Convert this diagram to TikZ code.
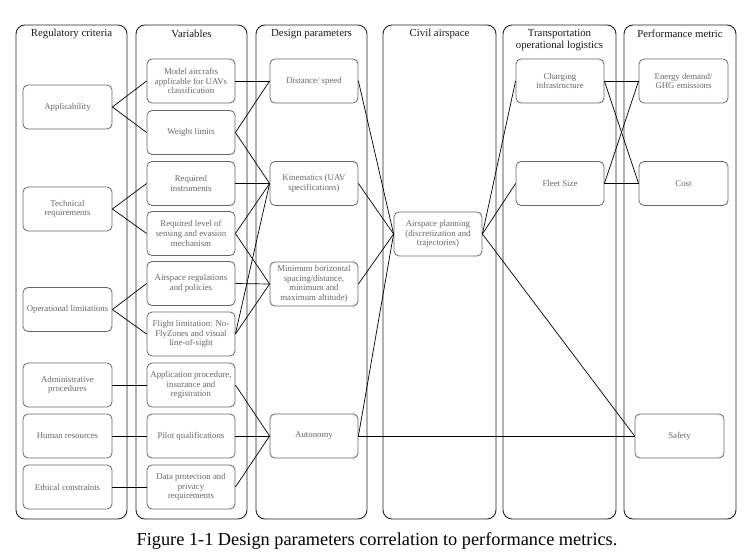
\documentclass[tikz,border=0pt]{standalone}
\usepackage{fontspec}
\setmainfont{Liberation Serif}
\begin{document}
\begin{tikzpicture}[x=1pt,y=-1pt,
  colbox/.style={draw=black!85, line width=0.9pt, rounded corners=9pt, minimum width=#1, minimum height=494pt, inner sep=0pt},
  coltitle/.style={align=center, font=\fontsize{10.8}{12}\selectfont, text=black!90, inner sep=0pt},
  ibox/.style={draw=black!60, line width=0.8pt, rounded corners=5pt, minimum width=88pt, minimum height=44pt, align=center, font=\fontsize{8.8}{9.7}\selectfont, text=black!60, inner sep=1pt},
  conn/.style={draw=black, line width=0.7pt}
]
\useasboundingbox (0,0) rectangle (756,559);

% columns
\node[colbox=111pt] (c1) at (71.5,272) {};
\node[colbox=111pt] (c2) at (191.5,272) {};
\node[colbox=111pt] (c3) at (311.5,272) {};
\node[colbox=113pt] (c4) at (439.5,272) {};
\node[colbox=113pt] (c5) at (559.5,272) {};
\node[colbox=112pt] (c6) at (680,272) {};

\node[coltitle] (t1) at (71.5,34) {Regulatory criteria};
\node[coltitle] (t2) at (191.5,34) {Variables};
\node[coltitle] (t3) at (311.5,34) {Design parameters};
\node[coltitle] (t4) at (439.5,34) {Civil airspace};
\node[coltitle] (t5) at (559.5,40) {Transportation\\operational logistics};
\node[coltitle] (t6) at (680,34) {Performance metric};

% column 1
\node[ibox, minimum width=89pt] (app) at (67.5,107) {Applicability};
\node[ibox, minimum width=89pt] (tech) at (67.5,209) {Technical\\requirements};
\node[ibox, minimum width=89pt] (oper) at (67.5,309.5) {Operational limitations};
\node[ibox, minimum width=89pt] (admin) at (67.5,385) {Administrative\\procedures};
\node[ibox, minimum width=89pt] (human) at (67.5,436) {Human resources};
\node[ibox, minimum width=89pt] (ethic) at (67.5,487) {Ethical constraints};

% column 2
\node[ibox] (model) at (191,81) {Model aircrafts\\applicable for UAVs\\classification};
\node[ibox] (weight) at (191,132.5) {Weight limits};
\node[ibox] (instr) at (191,183.5) {Required\\instruments};
\node[ibox] (sens) at (191,233.5) {Required level of\\sensing and evasion\\mechanism};
\node[ibox] (areg) at (191,283.5) {Airspace regulations\\and policies};
\node[ibox] (flight) at (191,334) {Flight limitation: No-\\FlyZones and visual\\line-of-sight};
\node[ibox] (appl) at (191,385) {Application procedure,\\insurance and\\registration};
\node[ibox] (pilot) at (191,436) {Pilot qualifications};
\node[ibox] (data) at (191,487) {Data protection and\\privacy\\requirements};

% column 3
\node[ibox] (dist) at (314,81) {Distance/ speed};
\node[ibox] (kin) at (314,183.5) {Kinematics (UAV\\specifications)};
\node[ibox] (minh) at (314,284) {Minimum horizontal\\spacing/distance,\\minimum and\\maximum altitude)};
\node[ibox] (auto) at (314,436) {Autonomy};

% column 4
\node[ibox] (plan) at (438,234) {Airspace planning\\(discretization and\\trajectories)};

% column 5
\node[ibox] (charg) at (560,81) {Charging\\infrastructure};
\node[ibox] (fleet) at (560,183.5) {Fleet Size};

% column 6
\node[ibox, minimum width=89pt] (energy) at (683.5,81) {Energy demand/\\GHG emissions};
\node[ibox, minimum width=89pt] (cost) at (683.5,183.5) {Cost};
\node[ibox, minimum width=89pt] (safety) at (679.5,436) {Safety};

% connectors col1 -> col2
\draw[conn] (app.east) -- (model.west);
\draw[conn] (app.east) -- (weight.west);
\draw[conn] (tech.east) -- (instr.west);
\draw[conn] (tech.east) -- (sens.west);
\draw[conn] (oper.east) -- (areg.west);
\draw[conn] (oper.east) -- (flight.west);
\draw[conn] (admin.east) -- (appl.west);
\draw[conn] (human.east) -- (pilot.west);
\draw[conn] (ethic.east) -- (data.west);

% col2 -> col3
\draw[conn] (model.east) -- (dist.west);
\draw[conn] (weight.east) -- (dist.west);
\draw[conn] (weight.east) -- (kin.west);
\draw[conn] (instr.east) -- (kin.west);
\draw[conn] (sens.east) -- (kin.west);
\draw[conn] (sens.east) -- (minh.west);
\draw[conn] (areg.east) -- (minh.west);
\draw[conn] (flight.east) -- (kin.west);
\draw[conn] (flight.east) -- (minh.west);
\draw[conn] (appl.east) -- (auto.west);
\draw[conn] (pilot.east) -- (auto.west);
\draw[conn] (data.east) -- (auto.west);

% col3 -> col4
\draw[conn] (dist.east) -- (plan.west);
\draw[conn] (kin.east) -- (plan.west);
\draw[conn] (minh.east) -- (plan.west);
\draw[conn] (auto.east) -- (plan.west);
\draw[conn] (auto.east) -- (safety.west);

% col4 -> col5 / col6
\draw[conn] (plan.east) -- (charg.west);
\draw[conn] (plan.east) -- (fleet.west);
\draw[conn] (plan.east) -- (safety.west);

% col5 -> col6
\draw[conn] (charg.east) -- (energy.west);
\draw[conn] (charg.east) -- (cost.west);
\draw[conn] (fleet.east) -- (energy.west);
\draw[conn] (fleet.east) -- (cost.west);

% caption
\node[font=\fontsize{18.3}{20}\selectfont, inner sep=0pt] (cap) at (377,541) {Figure 1-1 Design parameters correlation to performance metrics.};
\end{tikzpicture}
\end{document}
